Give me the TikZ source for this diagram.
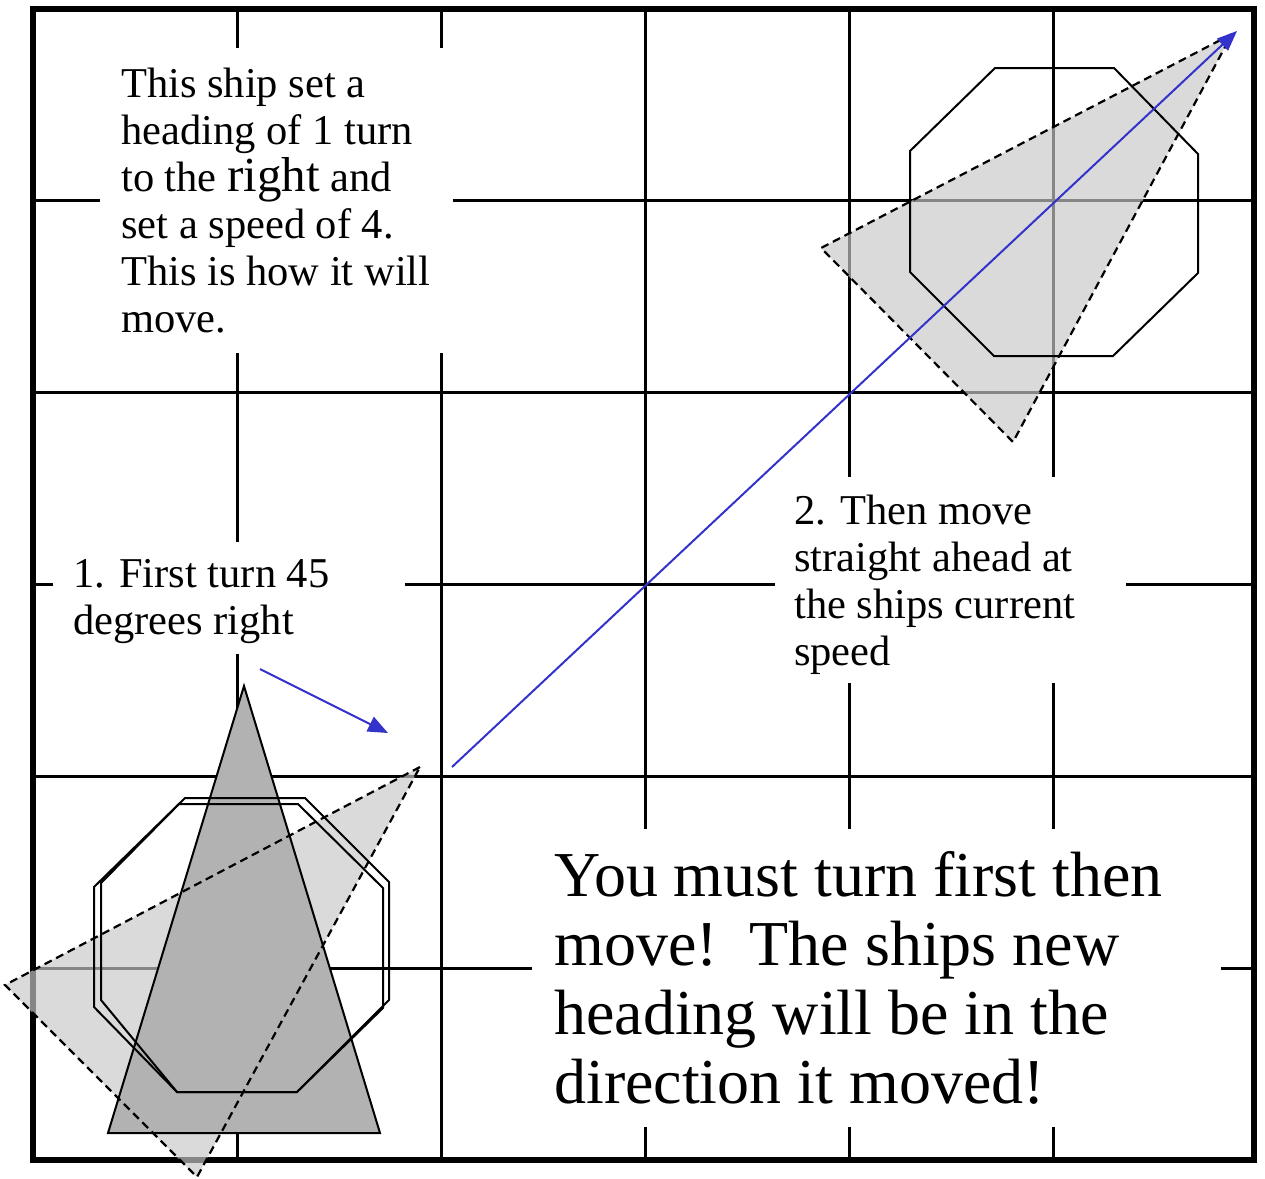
\documentclass[tikz,border=0pt]{standalone}
\usepackage{fontspec}
\setmainfont{Liberation Serif}
\usetikzlibrary{arrows.meta}
\definecolor{MoveBlue}{RGB}{51,51,204}
\definecolor{ShipGray}{RGB}{178,178,178}
\definecolor{GhostGray}{RGB}{200,200,200}
\tikzset{
  gridline/.style={black,line width=3pt},
  hull/.style={black,line width=2pt,line join=miter},
  ghost/.style={fill=GhostGray,fill opacity=0.67},
  ghostedge/.style={black,line width=2.2pt,dash pattern=on 8pt off 5pt},
  movearrow/.style={MoveBlue,line width=2pt,-{Triangle[length=20pt,width=16pt]}},
  note/.style={anchor=north west,inner sep=0pt,align=left,font=\fontsize{42.5}{47}\selectfont},
  bignote/.style={anchor=north west,inner sep=0pt,align=left,font=\fontsize{64}{69}\selectfont}
}

\begin{document}
\begin{tikzpicture}[x=1pt,y=-1pt]
        \useasboundingbox (0,0) rectangle (1265,1178);
        % Board
        \foreach \x in {237,441,645,849,1053}{
          \draw[gridline] (\x,9) -- (\x,1160);
        }
        \foreach \y in {200,392,584,776,968}{
          \draw[gridline] (33,\y) -- (1254,\y);
        }
        \draw[black,line width=6pt] (33,9) rectangle (1254,1160);
        % Blank patches behind the notes
        \fill[white] (100,48) rectangle (453,353);
        \fill[white] (53,542) rectangle (405,654);
        \fill[white] (775,477) rectangle (1126,683);
        \fill[white] (532,829) rectangle (1221,1127);
        % Heading after the turn
        \fill[ghost] (420,767) -- (5,985) -- (197,1177) -- cycle;
        \fill[ghost] (1232,34) -- (821,248) -- (1013,442) -- cycle;
        % Ship
        \filldraw[hull,fill=ShipGray] (244,686) -- (108,1133) -- (380,1133) -- cycle;
        \draw[hull] (185,798) -- (305,798) -- (389,882) -- (389,1000) -- (297,1092)
          -- (177,1092) -- (94,1007) -- (94,887) -- cycle;
        \draw[hull] (179,804) -- (298,804) -- (383,888) -- (383,1008) -- (297,1092)
          -- (177,1092) -- (101,1000) -- (101,883) -- cycle;
        \draw[hull] (995,68) -- (1114,68) -- (1198,154) -- (1198,273) -- (1113,356)
          -- (994,356) -- (910,272) -- (910,151) -- cycle;
        \draw[ghostedge] (420,767) -- (5,985) -- (197,1177) -- cycle;
        \draw[ghostedge] (1232,34) -- (821,248) -- (1013,442) -- cycle;
        % Moves
        \coordinate (turnfrom) at (260,669);
        \coordinate (turnto) at (388,733);
        \coordinate (movefrom) at (452,767);
        \coordinate (moveto) at (1237,31);
        \draw[movearrow] (turnfrom) -- (turnto);
        \draw[movearrow] (movefrom) -- (moveto);
        % Notes
        \node[note] (shipnote) at (121,68) {This ship set a\\heading of 1 turn\\to the {\fontsize{49}{47}\selectfont right} and\\set a speed of 4.\\This is how it will\\move.};
        \node[note] (turnnote) at (73,559) {1. First turn 45\\degrees right};
        \node[note] (movenote) at (794,495) {2. Then move\\straight ahead at\\the ships current\\speed};
        \node[bignote] (rulenote) at (554,851) {You must turn first then\\move!\ \ The ships new\\heading will be in the\\direction it moved!};
      \end{tikzpicture}
\end{document}
